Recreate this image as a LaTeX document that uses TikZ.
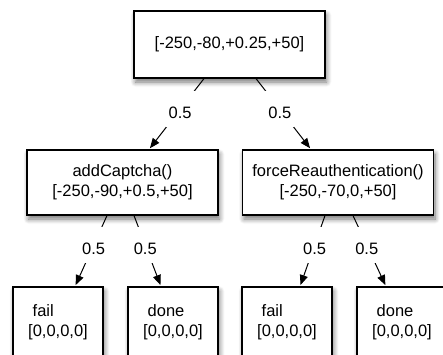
\documentclass[tikz,border=0pt]{standalone}
\usepackage{fontspec}
\setmainfont{Liberation Sans}
\usetikzlibrary{arrows.meta,shadows.blur}
\begin{document}
\begin{tikzpicture}[x=1pt,y=1pt,
  box/.style={draw=black, line width=1.1pt, fill=white, rectangle, inner sep=0pt,
    font=\fontsize{16.5}{20}\selectfont, align=center,
    blur shadow={shadow xshift=1.5pt, shadow yshift=-4pt, shadow blur radius=5pt, shadow blur steps=8, shadow opacity=55}},
  midbox/.style={box, minimum width=191pt, minimum height=65pt},
  leafbox/.style={box, minimum width=90pt, minimum height=70pt, align=left},
  edge/.style={line width=1pt, -{Triangle[length=10pt,width=8pt]}, shorten >=1.5pt},
  lbl/.style={fill=white, inner xsep=3pt, inner ysep=0pt, text height=27pt, text depth=9pt,
    font=\fontsize{16.5}{20}\selectfont}
]
\useasboundingbox (0,0) rectangle (443,-354);
\clip (0,0) rectangle (443,-354);

\node[box, minimum width=191pt, minimum height=67pt] (root) at (229.5,-44.5) {[-250,-80,+0.25,+50]};
\node[midbox] (L) at (122.5,-182.5) {addCaptcha()\\{}[-250,-90,+0.5,+50]};
\node[midbox] (R) at (338,-182.5) {forceReauthentication()\\{}[-250,-70,0,+50]};

\node[leafbox] (f1) at (58,-322) {\hspace*{4.5pt}fail\\{}[0,0,0,0]};
\node[leafbox] (d1) at (173,-322) {\hspace*{4.5pt}done\\{}[0,0,0,0]};
\node[leafbox] (f2) at (287,-322) {\hspace*{4.5pt}fail\\{}[0,0,0,0]};
\node[leafbox] (d2) at (402,-322) {\hspace*{4.5pt}done\\{}[0,0,0,0]};

\draw[edge] ([xshift=-25.5pt]root.south) -- node[lbl, pos=0.435] {0.5} ([xshift=26.5pt]L.north);
\draw[edge] ([xshift=26.5pt]root.south) -- node[lbl, pos=0.435] {0.5} ([xshift=-27pt]R.north);

\draw[edge] ([xshift=-15.5pt]L.south) -- node[lbl, pos=0.417] {0.5} ([xshift=17pt]f1.north);
\draw[edge] ([xshift=11.5pt]L.south) -- node[lbl, pos=0.417] {0.5} ([xshift=-12pt]d1.north);
\draw[edge] ([xshift=-13pt]R.south) -- node[lbl, pos=0.417] {0.5} ([xshift=13pt]f2.north);
\draw[edge] ([xshift=15pt]R.south) -- node[lbl, pos=0.417] {0.5} ([xshift=-16pt]d2.north);
\end{tikzpicture}
\end{document}
